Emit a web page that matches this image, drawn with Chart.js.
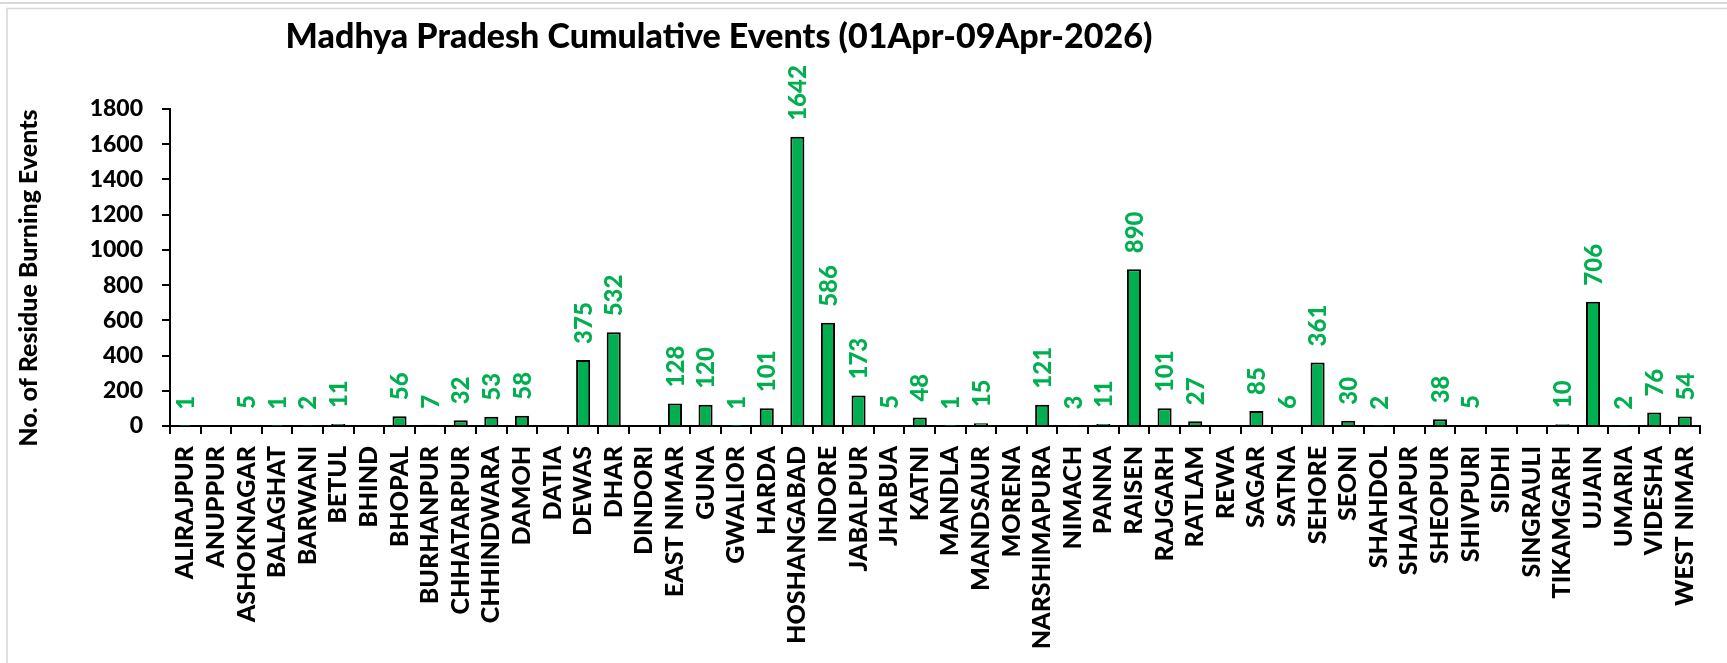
<!DOCTYPE html>
<html lang="en">
<head>
    <meta charset="UTF-8">
    <title>Madhya Pradesh Cumulative Events</title>
    <script src="https://cdn.jsdelivr.net/npm/chart.js@4/dist/chart.umd.min.js"></script>
    <style>
        html, body { margin: 0; padding: 0; background: #fff; }
        #wrap { position: relative; width: 1727px; height: 663px; }
    </style>
</head>
<body>
    <div id="wrap"><canvas id="mpChart" width="1727" height="663"></canvas></div>

    <script>
        // district names (x axis)
        const districts = [
            'ALIRAJPUR', 'ANUPPUR', 'ASHOKNAGAR', 'BALAGHAT', 'BARWANI', 'BETUL', 'BHIND', 'BHOPAL',
            'BURHANPUR', 'CHHATARPUR', 'CHHINDWARA', 'DAMOH', 'DATIA', 'DEWAS', 'DHAR', 'DINDORI',
            'EAST NIMAR', 'GUNA', 'GWALIOR', 'HARDA', 'HOSHANGABAD', 'INDORE', 'JABALPUR', 'JHABUA',
            'KATNI', 'MANDLA', 'MANDSAUR', 'MORENA', 'NARSHIMAPURA', 'NIMACH', 'PANNA', 'RAISEN',
            'RAJGARH', 'RATLAM', 'REWA', 'SAGAR', 'SATNA', 'SEHORE', 'SEONI', 'SHAHDOL',
            'SHAJAPUR', 'SHEOPUR', 'SHIVPURI', 'SIDHI', 'SINGRAULI', 'TIKAMGARH', 'UJJAIN', 'UMARIA',
            'VIDESHA', 'WEST NIMAR'
        ];

        // cumulative residue burning events per district
        const events = [
            1, 0, 5, 1, 2, 11, 0, 56,
            7, 32, 53, 58, 0, 375, 532, 0,
            128, 120, 1, 101, 1642, 586, 173, 5,
            48, 1, 15, 0, 121, 3, 11, 890,
            101, 27, 0, 85, 6, 361, 30, 2,
            0, 38, 5, 0, 0, 10, 706, 2,
            76, 54
        ];

        const titleText = 'Madhya Pradesh Cumulative Events (01Apr-09Apr-2026)';
        const yTitle = 'No. of Residue Burning Events';
        const yMax = 1800;
        const yStep = 200;

        const GREEN = '#00B050';
        const FONT = 'Lato, "Open Sans", sans-serif';
        const W = '900';

        // frame, chart title and y axis title (Excel style placement)
        const framePlugin = {
            id: 'frame',
            beforeDraw(chart) {
                const c = chart.ctx;
                c.save();
                c.fillStyle = '#fff';
                c.fillRect(0, 0, chart.width, chart.height);
                c.strokeStyle = '#d9d9d9';
                c.lineWidth = 2;
                c.beginPath();
                c.moveTo(0, 3); c.lineTo(chart.width, 3);
                c.stroke();
                c.beginPath();
                c.moveTo(7, chart.height); c.lineTo(7, 8.5); c.lineTo(chart.width, 8.5);
                c.lineWidth = 1.5;
                c.strokeStyle = '#d6d6d6';
                c.stroke();
                c.restore();
            },
            afterDraw(chart) {
                const c = chart.ctx;
                c.save();
                c.fillStyle = '#000';
                c.font = W + ' 34px ' + FONT;
                c.textAlign = 'center';
                c.textBaseline = 'alphabetic';
                c.fillText(titleText, 719, 48);

                c.font = W + ' 25px ' + FONT;
                c.translate(37, 278);
                c.rotate(-Math.PI / 2);
                c.fillText(yTitle, 0, 0);
                c.restore();
            }
        };

        // green value labels above each bar, rotated
        const valueLabels = {
            id: 'valueLabels',
            afterDatasetsDraw(chart) {
                const c = chart.ctx;
                const meta = chart.getDatasetMeta(0);
                c.save();
                c.fillStyle = GREEN;
                c.font = W + ' 24px ' + FONT;
                c.textAlign = 'left';
                c.textBaseline = 'middle';
                meta.data.forEach((bar, i) => {
                    const v = events[i];
                    if (!v) return;
                    c.save();
                    c.translate(bar.x, bar.y - 16);
                    c.rotate(-Math.PI / 2);
                    c.fillText(String(v), 0, 1);
                    c.restore();
                });
                c.restore();
            }
        };

        const ctx = document.getElementById('mpChart').getContext('2d');
        const mpChart = new Chart(ctx, {
            type: 'bar',
            data: {
                labels: districts,
                datasets: [{
                    data: events,
                    backgroundColor: GREEN,
                    borderColor: '#000',
                    borderWidth: 2,
                    barPercentage: 0.46,
                    categoryPercentage: 1.0
                }]
            },
            options: {
                responsive: false,
                animation: false,
                layout: { padding: { top: 109, right: 17, left: 0, bottom: 0 } },
                plugins: {
                    legend: { display: false },
                    tooltip: { enabled: false },
                    title: { display: false }
                },
                scales: {
                    x: {
                        grid: { display: true, drawOnChartArea: false, color: '#000', lineWidth: 2, tickLength: 8, offset: true },
                        border: { display: true, color: '#000', width: 2 },
                        ticks: {
                            color: '#000',
                            font: { family: FONT, size: 25, weight: W },
                            minRotation: 90,
                            maxRotation: 90,
                            autoSkip: false,
                            padding: 12
                        },
                        afterFit(scale) { scale.height = 663 - 426; }
                    },
                    y: {
                        min: 0,
                        max: yMax,
                        grid: { display: true, drawOnChartArea: false, color: '#000', lineWidth: 2, tickLength: 8 },
                        border: { display: true, color: '#000', width: 2 },
                        ticks: {
                            stepSize: yStep,
                            color: '#000',
                            font: { family: FONT, size: 23, weight: W },
                            padding: 19,
                            callback: (v) => String(v)
                        },
                        afterFit(scale) { scale.width = 170; }
                    }
                }
            },
            plugins: [framePlugin, valueLabels]
        });
    </script>
</body>
</html>
